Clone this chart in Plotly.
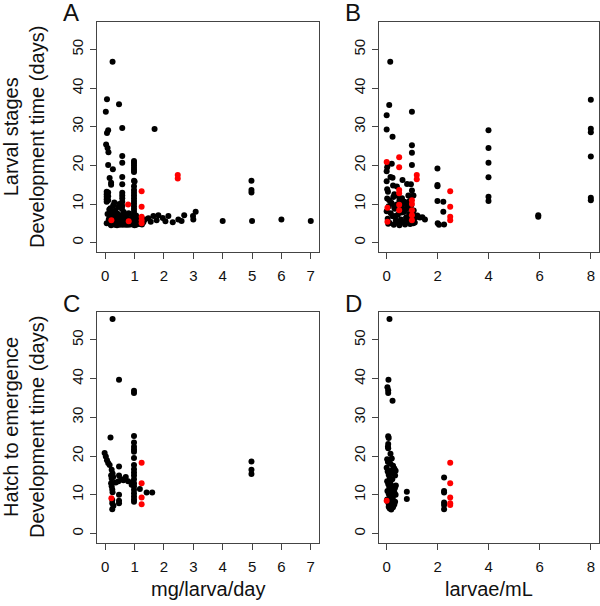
import plotly.graph_objects as go

# ---------------- data ----------------
# Panel A: Larval stages vs mg/larva/day
a_black_x = [0.25, 0.06, 0.02, 0.47, 0.10, 0.06, 0.58, 1.68, 0.03, 0.08, 0.11, 0.10, 0.26, 0.58, 0.58, 0.58, 0.58, 0.15, 0.20, 0.20,
             0.98, 0.98, 0.98, 0.98, 0.98, 0.98, 0.98, 0.98, 0.98, 0.98, 0.98, 0.98, 0.98, 0.98, 0.98, 0.98, 0.98, 0.98, 0.98, 0.98, 0.98, 0.98, 1.00,
             0.05, 0.05, 0.05, 0.05, 0.05, 0.10, 0.10, 0.10, 0.58, 0.58, 0.58, 0.58, 0.58,
             0.18, 0.22, 0.25, 0.28, 0.21, 0.30, 0.24, 0.19, 0.33, 0.36, 0.40, 0.38, 0.42, 0.35, 0.45, 0.50, 0.55, 0.52, 0.60, 0.62,
             0.66, 0.70, 0.74, 0.78, 0.82, 0.86, 0.90, 0.94, 0.27, 0.31, 0.44, 0.57, 0.63, 0.72, 0.48, 0.12, 0.08, 0.14, 0.05, 0.16,
             1.05, 1.10, 1.15, 1.20, 1.12, 1.25, 1.30, 1.35,
             1.47, 1.64, 1.81, 1.96, 2.15, 2.49, 2.69, 2.99, 3.08, 1.55, 1.75, 2.05, 2.30, 2.60, 3.00,
             4.00, 5.00, 6.00, 7.00, 4.98, 4.98, 4.98,
             0.15, 0.25, 0.35, 0.45, 0.55, 0.65, 0.75, 0.85, 0.95, 1.05, 1.15, 0.20, 0.30, 0.40, 0.50, 0.60, 0.70, 0.80, 0.90, 1.00]
a_black_y = [46.8, 37.1, 33.9, 35.8, 29.1, 28.4, 29.7, 29.4, 25.4, 24.5, 23.4, 20.1, 19.0, 22.4, 20.7, 17.0, 15.1, 16.7, 15.5, 15.0,
             21.1, 20.6, 20.0, 19.4, 18.8, 18.3, 16.0, 14.6, 13.6, 12.9, 12.2, 11.5, 10.8, 10.1, 9.4, 8.7, 8.0, 7.3, 6.6, 5.9, 5.2, 4.6, 15.8,
             13.2, 12.5, 11.9, 11.2, 10.6, 13.0, 12.0, 11.0, 12.9, 12.2, 11.5, 10.6, 9.5,
             8.9, 8.2, 7.6, 7.0, 6.4, 5.8, 5.2, 4.7, 4.6, 5.3, 6.1, 6.8, 7.5, 8.3, 4.8, 5.5, 6.2, 7.1, 4.6, 5.4,
             6.0, 4.9, 5.6, 4.6, 5.1, 4.7, 5.4, 4.8, 9.6, 10.4, 9.2, 8.7, 7.9, 7.2, 10.0, 6.0, 7.4, 8.6, 5.0, 5.5,
             4.6, 5.2, 4.8, 5.5, 6.3, 4.7, 5.3, 6.0,
             6.3, 6.9, 7.1, 6.4, 6.9, 6.0, 7.1, 6.9, 8.0, 5.4, 5.8, 5.5, 5.3, 5.6, 6.0,
             5.6, 5.6, 6.0, 5.6, 16.0, 13.6, 13.0,
             6.5, 7.3, 4.9, 6.6, 5.1, 7.0, 6.4, 6.0, 7.1, 7.0, 5.9, 4.5, 5.0, 4.5, 4.6, 6.9, 4.6, 7.6, 6.2, 4.5]
a_red_x = [2.47, 2.47, 1.24, 0.78, 1.24, 1.24, 1.24, 0.21, 0.80, 1.24]
a_red_y = [17.5, 16.6, 13.3, 9.9, 9.3, 6.7, 5.8, 5.8, 5.5, 5.0]

# Panel B: Larval stages vs larvae/mL
b_black_x = [0.14, 0.10, 0.00, 0.99, 0.00, 0.23, 0.99, 0.99, 0.99, 3.99, 3.99, 3.99, 3.99, 3.99, 3.99,
             1.99, 1.99, 1.99, 1.99, 2.22, 2.22, 5.94, 5.94, 8.00, 8.00, 8.00, 8.00, 8.00, 8.00,
             0.05, 0.02, 0.00, 0.20, 0.15, 0.25, 0.00, 0.02, 0.05, 0.30, 0.45, 0.62, 0.23, 0.40, 0.80, 0.95,
             0.99, 0.85, 0.95, 1.05, 0.60, 0.70, 0.50,
             0.00, 0.04, 0.08, 0.12, 0.16, 0.20, 0.24, 0.28, 0.32, 0.36, 0.40, 0.44, 0.48, 0.52, 0.56, 0.60,
             0.64, 0.68, 0.72, 0.76, 0.80, 0.84, 0.88, 0.92, 0.96, 1.00, 1.04, 1.08, 0.02, 0.10, 0.18, 0.26,
             0.34, 0.42, 0.50, 0.58, 0.66, 0.74, 0.82, 0.90, 0.98, 1.06, 1.14, 0.06, 0.30, 0.55, 0.78,
             1.20, 1.30, 1.40, 1.50, 1.10, 2.00, 2.05, 2.25]
b_black_y = [46.8, 35.6, 33.0, 33.9, 29.3, 27.4, 25.2, 23.3, 20.1, 29.1, 24.5, 20.7, 16.9, 11.9, 10.8,
             19.2, 14.9, 14.6, 10.8, 10.6, 8.0, 7.1, 6.7, 37.0, 29.5, 28.6, 22.3, 11.6, 11.0,
             20.3, 19.5, 18.5, 20.4, 17.0, 14.8, 15.9, 13.8, 13.2, 12.5, 12.1, 16.2, 16.8, 14.5, 15.2, 15.1,
             13.5, 12.2, 12.0, 12.2, 11.5, 10.6, 10.9,
             8.1, 6.2, 9.4, 5.1, 7.6, 10.1, 6.8, 4.6, 8.8, 5.7, 9.9, 7.2, 4.9, 8.4, 6.0, 9.2,
             5.3, 7.9, 4.7, 6.5, 8.9, 5.6, 7.4, 4.8, 9.6, 6.3, 5.0, 7.0, 11.4, 11.0, 10.3, 11.8,
             6.9, 5.4, 4.5, 7.8, 10.4, 8.6, 6.1, 10.8, 5.5, 8.3, 6.6, 4.9, 9.0, 11.2, 10.0,
             7.0, 6.5, 6.6, 6.0, 5.2, 5.0, 4.6, 4.7]
b_red_x = [0.00, 0.49, 0.49, 1.18, 1.18, 0.49, 0.49, 0.03, 0.99, 0.99, 0.99, 0.99, 2.49, 2.49, 2.49, 2.49, 0.03, 0.49, 0.99, 0.49]
b_red_y = [20.9, 22.1, 19.5, 17.5, 16.4, 13.6, 12.8, 9.0, 11.0, 8.4, 7.1, 5.8, 13.3, 9.3, 6.7, 5.8, 5.4, 8.4, 10.0, 9.8]

# Panel C: Hatch to emergence vs mg/larva/day
c_black_x = [0.25, 0.47, 0.98, 0.98, 0.18, 0.98, 0.98, 0.98, 0.98, 0.98, 0.98, 0.98, 0.98, 0.98, 0.98, 0.98, 0.98, 0.98,
             0.98, 0.98, 0.98, 0.98, 0.98,
             -0.02, 0.02, 0.06, 0.10, 0.15, 0.22, 0.25, 0.20, 0.22, 0.27, 0.47, 0.47, 0.55, 0.45, 0.62, 0.70, 0.78, 0.36,
             0.20, 0.22, 0.24, 0.25, 0.47, 0.47, 0.47, 0.24, 0.24, 0.24, 0.28, 0.90, 0.92,
             1.18, 1.41, 1.60, 4.98, 4.98, 4.98]
c_black_y = [55.4, 39.7, 36.9, 36.3, 24.8, 25.2, 23.5, 22.4, 21.7, 21.1, 19.5, 17.7, 16.6, 15.8, 15.0, 14.0, 13.0, 12.2,
             11.3, 10.4, 9.6, 8.8, 8.2,
             20.8, 19.9, 18.9, 18.2, 17.7, 16.5, 15.5, 15.0, 14.2, 14.6, 17.3, 15.0, 14.0, 13.5, 13.8, 14.6, 13.5, 13.2,
             13.0, 12.2, 11.4, 10.7, 10.0, 8.5, 7.8, 8.7, 7.8, 6.3, 7.2, 12.6, 13.2,
             11.5, 10.6, 10.6, 18.6, 16.5, 15.4]
c_red_x = [0.21, 1.24, 1.24, 1.24, 1.24]
c_red_y = [9.1, 18.3, 13.0, 9.3, 7.6]

# Panel D: Hatch to emergence vs larvae/mL
d_black_x = [0.11, 0.07, 0.03, 0.06, 0.06, 0.23, 0.06, 0.08, 0.06, 0.05, 0.06, 0.15,
             0.02, 0.05, 0.10, 0.15, 0.20, 0.25, 0.30, 0.35, 0.28, 0.33, 0.00, 0.04, 0.08, 0.12, 0.18, 0.22,
             0.02, 0.06, 0.10, 0.14, 0.20, 0.26, 0.32, 0.36, 0.30, 0.35, 0.03, 0.08, 0.12, 0.18, 0.24,
             0.02, 0.06, 0.10, 0.15, 0.20, 0.25, 0.12, 0.18, 0.30, 0.33, 0.08,
             0.79, 0.79, 2.25, 2.25, 2.25, 2.25, 2.25, 2.25]
d_black_y = [55.4, 39.7, 37.8, 37.0, 36.3, 34.3, 25.1, 24.7, 23.1, 22.4, 22.0, 20.6,
             19.2, 18.5, 19.0, 18.0, 19.4, 17.5, 16.8, 16.2, 15.5, 15.0, 17.0, 16.0, 15.2, 14.5, 16.3, 14.0,
             13.5, 12.8, 12.0, 13.2, 11.5, 12.2, 11.7, 12.4, 10.7, 10.0, 11.0, 10.3, 9.6, 10.2, 9.2,
             8.8, 8.0, 7.4, 8.4, 7.7, 6.8, 6.5, 6.2, 7.5, 8.2, 6.9,
             10.8, 8.9, 14.5, 11.0, 10.6, 8.0, 7.4, 6.3]
d_red_x = [2.49, 2.49, 2.49, 2.49, 2.49, 0.00]
d_red_y = [18.3, 13.0, 9.3, 7.8, 7.4, 8.5]

y_ticks = [0, 10, 20, 30, 40, 50]
ac_x_ticks = [0, 1, 2, 3, 4, 5, 6, 7]
bd_x_ticks = [0, 2, 4, 6, 8]

# ---------------- figure ----------------
W, H = 600, 606
FONT = "Liberation Sans, Arial, Helvetica, sans-serif"
fig = go.Figure()

panels = [
    ("x", "y", a_black_x, a_black_y, a_red_x, a_red_y),
    ("x2", "y2", b_black_x, b_black_y, b_red_x, b_red_y),
    ("x3", "y3", c_black_x, c_black_y, c_red_x, c_red_y),
    ("x4", "y4", d_black_x, d_black_y, d_red_x, d_red_y),
]
for xa, ya, bx, by, rx, ry in panels:
    fig.add_trace(go.Scatter(x=bx, y=by, mode="markers", xaxis=xa, yaxis=ya,
                             marker=dict(color="black", size=6, line=dict(width=0)),
                             showlegend=False, hoverinfo="skip", cliponaxis=False))
    fig.add_trace(go.Scatter(x=rx, y=ry, mode="markers", xaxis=xa, yaxis=ya,
                             marker=dict(color="#FF0000", size=6, line=dict(width=0)),
                             showlegend=False, hoverinfo="skip", cliponaxis=False))

def px_x(p):
    return p / W

def px_y(p):
    return 1 - p / H

dom_left = [px_x(97), px_x(319)]
dom_right = [px_x(378.5), px_x(599)]
dom_top = [px_y(251.5), px_y(21.7)]
dom_bot = [px_y(542.5), px_y(312)]

axis_common = dict(showline=True, mirror=True, linecolor="#444", linewidth=1,
                   ticks="outside", ticklen=6, tickcolor="#444", tickwidth=1,
                   showgrid=False, zeroline=False, automargin=False,
                   tickfont=dict(family=FONT, size=15, color="#111"))

def xax(dom, rng, ticks, anchor):
    d = dict(axis_common)
    d.update(domain=dom, range=rng, tickvals=ticks, ticktext=[str(t) for t in ticks],
             anchor=anchor, ticklabelstandoff=4)
    return d

def yax(dom, anchor):
    d = dict(axis_common)
    d.update(domain=dom, range=[-2.3, 57.2], tickvals=y_ticks,
             ticktext=[str(t) for t in y_ticks], anchor=anchor, tickangle=-90,
             ticklabelstandoff=1)
    return d

fig.update_layout(
    width=W, height=H,
    margin=dict(l=0, r=0, t=0, b=0, autoexpand=False),
    paper_bgcolor="white", plot_bgcolor="white",
    font=dict(family=FONT, color="#111"),
    xaxis=xax(dom_left, [-0.28, 7.28], ac_x_ticks, "y"),
    yaxis=yax(dom_top, "x"),
    xaxis2=xax(dom_right, [-0.32, 8.32], bd_x_ticks, "y2"),
    yaxis2=yax(dom_top, "x2"),
    xaxis3=xax(dom_left, [-0.28, 7.28], ac_x_ticks, "y3"),
    yaxis3=yax(dom_bot, "x3"),
    xaxis4=xax(dom_right, [-0.32, 8.32], bd_x_ticks, "y4"),
    yaxis4=yax(dom_bot, "x4"),
)

ann = []
for letter, xp, yp in [("A", 71, 13), ("B", 353, 13), ("C", 71, 303), ("D", 353, 303)]:
    ann.append(dict(text=letter, x=px_x(xp), y=px_y(yp), xref="paper", yref="paper",
                    showarrow=False, xanchor="center", yanchor="middle",
                    font=dict(family=FONT, size=24, color="#111")))
for txt, yc in [("Larval stages<br>Development time (days)", 137),
                ("Hatch to emergence<br>Development time (days)", 427)]:
    ann.append(dict(text=txt, x=px_x(24), y=px_y(yc), xref="paper", yref="paper",
                    showarrow=False, xanchor="center", yanchor="middle", textangle=-90,
                    font=dict(family=FONT, size=20, color="#111")))
for txt, xc in [("mg/larva/day", 208), ("larvae/mL", 489)]:
    ann.append(dict(text=txt, x=px_x(xc), y=px_y(589), xref="paper", yref="paper",
                    showarrow=False, xanchor="center", yanchor="middle",
                    font=dict(family=FONT, size=20, color="#111")))
fig.update_layout(annotations=ann)

fig.write_html("out.html", config={"displayModeBar": False},
               post_script="document.body.style.margin='0';document.body.style.overflow='hidden';")
